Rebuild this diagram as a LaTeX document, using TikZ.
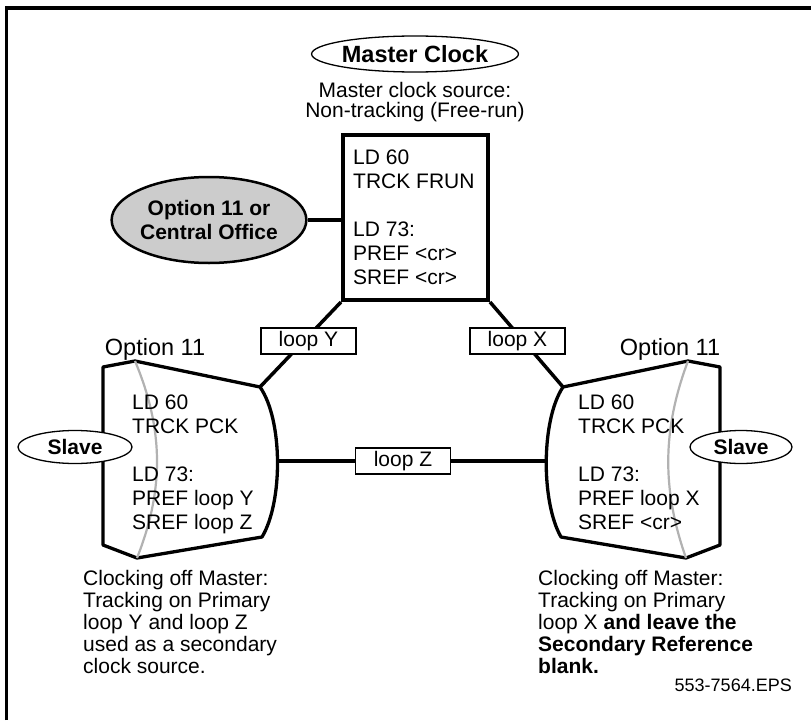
\documentclass[tikz,border=0pt]{standalone}
\usepackage{fontspec}
\setmainfont{Liberation Sans}
\usetikzlibrary{shapes.geometric}
\begin{document}
\begin{tikzpicture}[
	x=1pt, y=-1pt,
	every node/.style={inner sep=0pt, font=\fontsize{21}{24}\selectfont},
	oval/.style={draw, ellipse, fill=white, line width=1.3pt, font=\fontsize{21}{24}\selectfont\bfseries},
	tag/.style={draw, fill=white, line width=1.3pt, minimum width=95pt, minimum height=26pt},
	link/.style={line width=3.5pt},
	shell/.style={line width=3.3pt, line join=round, fill=white},
	rim/.style={line width=2.2pt, black!30},
	listing/.style={anchor=north west, align=left},
	note/.style={anchor=north west, align=left, font=\fontsize{21}{22}\selectfont}
	]
	
	\useasboundingbox (0,0) rectangle (811,720);
	
	% frame, cut at the right and at the bottom
	\draw[line width=3.5pt] (6.5,720) -- (6.5,8) -- (811,8);
	
	% master clock
	\node[oval, minimum width=196pt, minimum height=36pt, font=\fontsize{23.5}{24}\selectfont\bfseries] (master) at (415,54) {Master Clock};
	\node[anchor=north, align=center, font=\fontsize{21}{20}\selectfont] (mastertxt) at (415,82) {Master clock source:\\Non-tracking (Free-run)};
	
	\node[draw, line width=4pt, minimum width=145pt, minimum height=165pt, anchor=north west] (mc) at (341,133) {};
	\node[listing] (mctxt) at (353,149.5) {LD 60\\TRCK FRUN\\[24pt]LD 73:\\PREF <cr>\\SREF <cr>};
	
	\node[draw, ellipse, fill=black!20, line width=2.5pt, minimum width=168pt, minimum height=86pt, align=center, font=\fontsize{21}{24}\selectfont\bfseries] (co) at (209,220) {Option 11 or\\Central Office};
	\draw[link] (co.east) -- (co.east -| mc.west);
	
	% corners of the two Option 11 shells
	\path 
	(103,367) coordinate (lA)
	(135,361) coordinate (lB)
	(260,387) coordinate (lC)
	(262,537) coordinate (lD)
	(137,558) coordinate (lE)
	(103,545) coordinate (lF)
	(277.5,461) coordinate (lZ)
	(720,367) coordinate (rA)
	(688,361) coordinate (rB)
	(563,387) coordinate (rC)
	(561,537) coordinate (rD)
	(686,558) coordinate (rE)
	(720,545) coordinate (rF)
	(546.5,461) coordinate (rZ)
	;
	
	\draw[link] (mc.south west) -- (lC);
	\draw[link] (mc.south east) -- (rC);
	\draw[link] (lZ) -- (rZ);
	
	\draw[shell] (lA) -- (lB) -- (lC) .. controls (283,420) and (283,502) .. (lD) -- (lE) -- (lF) -- cycle;
	\draw[rim] (lB) .. controls (164,430) and (164,490) .. (lE);
	\draw[shell] (rA) -- (rB) -- (rC) .. controls (541,420) and (541,502) .. (rD) -- (rE) -- (rF) -- cycle;
	\draw[rim] (rB) .. controls (662,430) and (662,490) .. (rE);
	
	\node[tag] (loopy) at (308.5,341) {loop Y};
	\node[tag] (loopx) at (517.5,341) {loop X};
	\node[tag] (loopz) at (403,461) {loop Z};
	
	% left slave
	\node[anchor=base, font=\fontsize{23.5}{24}\selectfont] (lname) at (155,355.5) {Option 11};
	\node[listing] (ltxt) at (132,394.5) {LD 60\\TRCK PCK\\[24pt]LD 73:\\PREF loop Y\\SREF loop Z};
	\node[oval, minimum width=114pt, minimum height=33pt] (lslave) at (75,447) {Slave};
	\node[note] (lnote) at (83,570.5) {Clocking off Master:\\Tracking on Primary\\loop Y and loop Z\\used as a secondary\\clock source.};
	
	% right slave
	\node[anchor=base, font=\fontsize{23.5}{24}\selectfont] (rname) at (670,355.5) {Option 11};
	\node[listing] (rtxt) at (578,394.5) {LD 60\\TRCK PCK\\[24pt]LD 73:\\PREF loop X\\SREF <cr>};
	\node[oval, minimum width=102pt, minimum height=33pt] (rslave) at (741,447) {Slave};
	\node[note] (rnote) at (538,570.5) {Clocking off Master:\\Tracking on Primary\\loop X \textbf{and leave the}\\\textbf{Secondary Reference}\\\textbf{blank.}};
	
	\node[anchor=base east, font=\fontsize{18}{20}\selectfont] (eps) at (792,691.5) {553-7564.EPS};
	
\end{tikzpicture}
\end{document}
